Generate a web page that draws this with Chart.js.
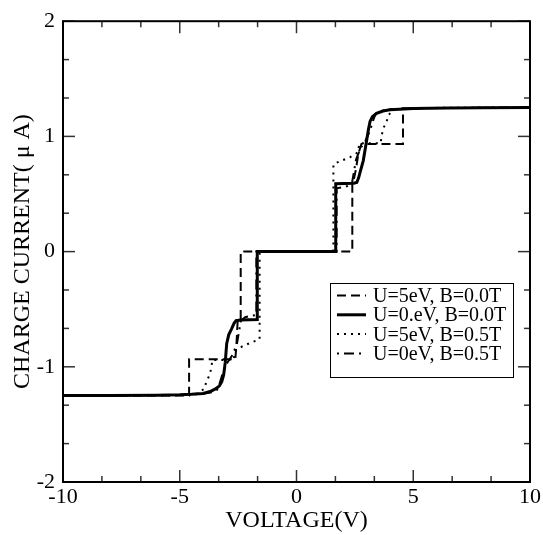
<!DOCTYPE html>
<html><head><meta charset="utf-8">
<script src="https://cdn.jsdelivr.net/npm/chart.js@4"></script>
<style>html,body{margin:0;padding:0;background:#fff}#wrap{width:543px;height:535px}</style>
</head><body><div id="wrap"><canvas id="c" width="543" height="535"></canvas></div>
<script>
const seriesLabels = ['U=5eV, B=0.0T', 'U=0.eV, B=0.0T', 'U=5eV, B=0.5T', 'U=0eV, B=0.5T'];

const dashedX = [-10,-4.6,-4.6,-2.62,-2.57,-2.52,-2.39,-2.39,2.39,2.39,2.47,2.55,2.65,2.78,4.56,4.56,10];
const dashedY = [-1.25,-1.25,-0.935,-0.935,-0.8,-0.6,-0.6,0,0,0.6,0.64,0.72,0.85,0.935,0.935,1.245,1.25];

const solidX = [-10,-8,-6,-5,-4.5,-4,-3.7,-3.45,-3.3,-3.2,-3.12,-3.05,-2.99,-2.9,-2.78,-2.68,-2.59,-2.4,-1.68,-1.68,1.68,1.68,2.45,2.58,2.66,2.74,2.86,3.0,3.08,3.15,3.25,3.43,3.7,4.0,5.0,6.5,8,10];
const solidY = [-1.25,-1.249,-1.246,-1.243,-1.239,-1.232,-1.215,-1.19,-1.165,-1.13,-1.07,-0.96,-0.8,-0.72,-0.67,-0.625,-0.6,-0.593,-0.59,0,0,0.59,0.593,0.6,0.64,0.7,0.79,0.96,1.06,1.13,1.17,1.2,1.22,1.232,1.242,1.246,1.249,1.25];

const dottedX = [-10,-5,-4.5,-4.2,-3.95,-3.86,-3.72,-3.65,-3.6,-2.7,-2.62,-2.3,-2.0,-1.7,-1.58,-1.58,1.58,1.58,1.7,2.0,2.3,2.62,2.7,3.6,3.65,3.72,3.86,3.95,4.2,4.5,5,10];
const dottedY = [-1.25,-1.247,-1.24,-1.23,-1.19,-1.13,-1.07,-1.01,-0.94,-0.94,-0.86,-0.82,-0.795,-0.77,-0.76,0,0,0.76,0.77,0.795,0.82,0.86,0.94,0.94,1.01,1.07,1.13,1.19,1.23,1.24,1.247,1.25];

const dashdotX = [-10,-5,-4,-3.6,-3.4,-3.3,-3.15,-2.95,-2.75,-2.55,-2.45,-2.38,-2.2,-2.0,-1.72,-1.72,1.72,1.72,2.0,2.2,2.38,2.45,2.55,2.75,2.95,3.15,3.3,3.4,3.6,4,5,10];
const dashdotY = [-1.25,-1.245,-1.235,-1.22,-1.2,-1.15,-1.05,-0.96,-0.9,-0.8,-0.68,-0.6,-0.57,-0.56,-0.55,0,0,0.55,0.56,0.57,0.6,0.68,0.8,0.9,0.96,1.05,1.15,1.2,1.22,1.235,1.245,1.25];

const xMajorTicks = [-10,-5,0,5,10];
const xMinorTicks = [-8.3333,-6.6667,-3.3333,-1.6667,1.6667,3.3333,6.6667,8.3333];
const yMajorTicks = [-2,-1,0,1,2];
const yMinorTicks = [-1.6667,-1.3333,-0.6667,-0.3333,0.3333,0.6667,1.3333,1.6667];

const xTitle = 'VOLTAGE(V)';
const yTitle = 'CHARGE CURRENT( \u03bc A)';

function pts(xs, ys){ return xs.map((x,i)=>({x:x, y:ys[i]})); }

const SERIF = "'Liberation Serif','DejaVu Serif',serif";

const datasets = [
  {label: seriesLabels[0], data: pts(dashedX, dashedY), borderColor:'#000', borderWidth:2, borderDash:[9,5]},
  {label: seriesLabels[1], data: pts(solidX, solidY), borderColor:'#000', borderWidth:3, borderDash:[]},
  {label: seriesLabels[2], data: pts(dottedX, dottedY), borderColor:'#000', borderWidth:2, borderDash:[2,5]},
  {label: seriesLabels[3], data: pts(dashdotX, dashdotY), borderColor:'#000', borderWidth:2, borderDash:[2,5,10,5]}
].map(d => Object.assign(d, {pointRadius:0, fill:false, tension:0, borderCapStyle:'butt'}));

const framePlugin = {
  id: 'frame',
  afterDraw(chart){
    const {ctx, chartArea:a, scales:{x, y}} = chart;
    ctx.save();
    ctx.strokeStyle = '#333';
    ctx.lineWidth = 1.5;
    const tick = (vals, len) => {
      vals.forEach(v => {
        const px = x.getPixelForValue(v);
        ctx.beginPath(); ctx.moveTo(px, a.bottom); ctx.lineTo(px, a.bottom - len); ctx.stroke();
        ctx.beginPath(); ctx.moveTo(px, a.top); ctx.lineTo(px, a.top + len); ctx.stroke();
      });
    };
    const ytick = (vals, len) => {
      vals.forEach(v => {
        const py = y.getPixelForValue(v);
        ctx.beginPath(); ctx.moveTo(a.left, py); ctx.lineTo(a.left + len, py); ctx.stroke();
        ctx.beginPath(); ctx.moveTo(a.right, py); ctx.lineTo(a.right - len, py); ctx.stroke();
      });
    };
    tick(xMajorTicks, 12); tick(xMinorTicks, 6);
    ytick(yMajorTicks, 12); ytick(yMinorTicks, 6);
    ctx.strokeStyle = '#000';
    ctx.lineWidth = 2;
    ctx.strokeRect(a.left, a.top, a.right - a.left, a.bottom - a.top);

    // legend
    const bx = 330, by = 283, bw = 183, bh = 94;
    ctx.fillStyle = '#fff';
    ctx.fillRect(bx, by, bw, bh);
    ctx.lineWidth = 1;
    ctx.strokeStyle = '#000';
    ctx.strokeRect(bx + 0.5, by + 0.5, bw, bh);
    ctx.font = "20px " + SERIF;
    ctx.fillStyle = '#000';
    ctx.textBaseline = 'alphabetic';
    ctx.textAlign = 'left';
    chart.data.datasets.forEach((d, i) => {
      const base = 302 + i * 19.3;
      const ly = base - 6.5;
      ctx.save();
      ctx.lineWidth = d.borderWidth;
      ctx.setLineDash(d.borderDash);
      ctx.lineCap = 'butt';
      ctx.beginPath(); ctx.moveTo(337, ly); ctx.lineTo(366, ly); ctx.stroke();
      ctx.restore();
      ctx.fillText(d.label, 373, base);
    });
    ctx.restore();
  }
};

new Chart(document.getElementById('c'), {
  type: 'line',
  data: {datasets},
  options: {
    responsive: false,
    animation: false,
    devicePixelRatio: 1,
    layout: {padding: {top: 15, right: 13, left: 0, bottom: 0}},
    plugins: {legend: {display: false}, tooltip: {enabled: false}},
    scales: {
      x: {
        type: 'linear', min: -10, max: 10,
        afterBuildTicks(s){ s.ticks = xMajorTicks.map(v => ({value: v})); },
        ticks: {font: {family: SERIF, size: 22}, color: '#000', padding: 2, maxRotation: 0, autoSkip: false},
        grid: {display: false, drawTicks: false},
        border: {display: false},
        title: {display: true, text: xTitle, font: {family: SERIF, size: 24}, color: '#000', padding: {top: 0, bottom: 0}},
        afterFit(s){ s.height = 53; }
      },
      y: {
        type: 'linear', min: -2, max: 2,
        afterBuildTicks(s){ s.ticks = yMajorTicks.map(v => ({value: v})); },
        ticks: {font: {family: SERIF, size: 22}, color: '#000', padding: 8, autoSkip: false},
        grid: {display: false, drawTicks: false},
        border: {display: false},
        title: {display: true, text: yTitle, font: {family: SERIF, size: 24}, color: '#000', padding: {top: 8, bottom: 0}},
        afterFit(s){ s.width = 63; }
      }
    }
  },
  plugins: [framePlugin]
});
</script>
</body></html>
